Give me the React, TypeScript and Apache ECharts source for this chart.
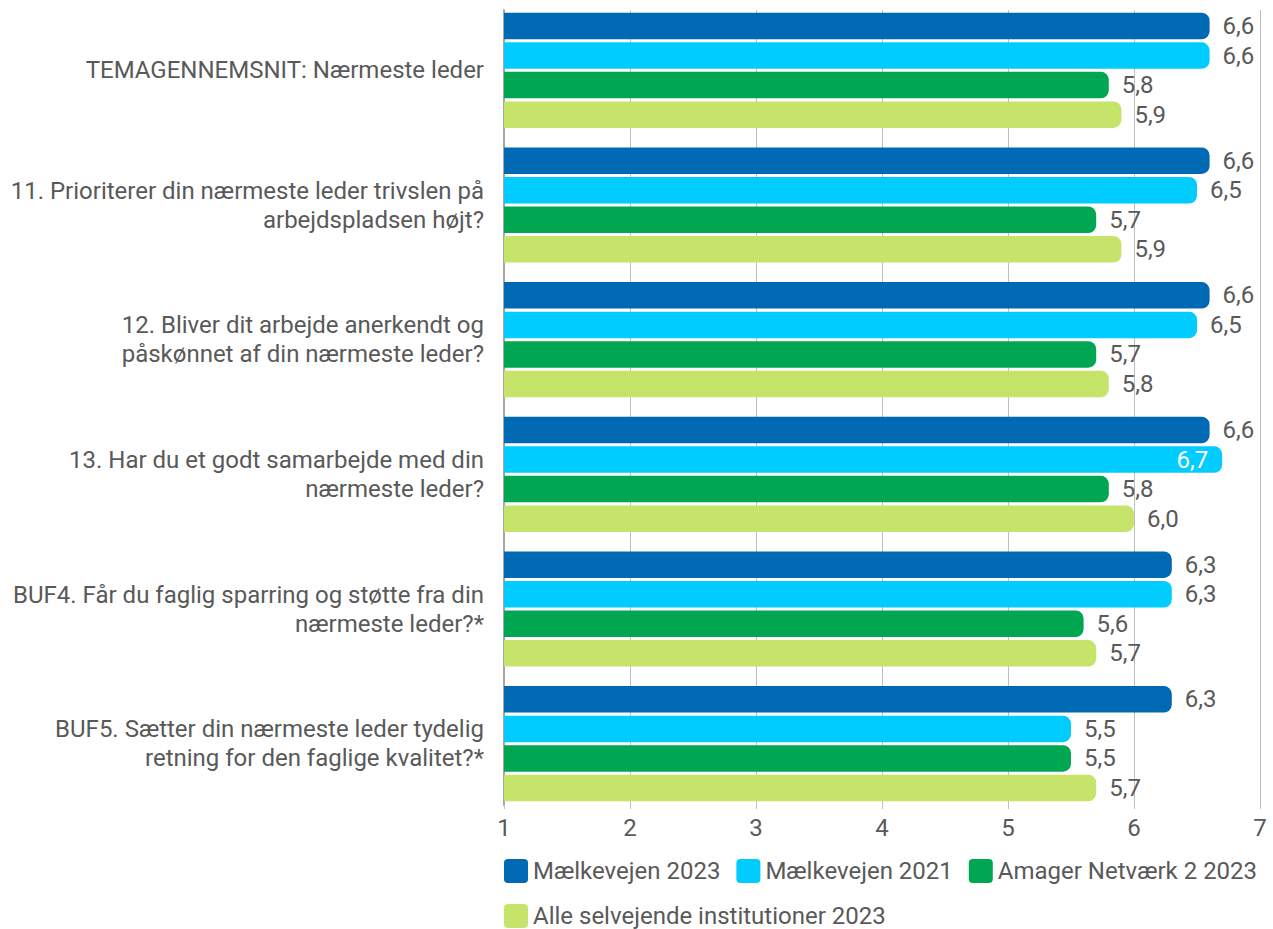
import React, { useEffect, useRef } from "react";
import * as echarts from "echarts";

const categories = [
  "TEMAGENNEMSNIT: Nærmeste leder",
  "11. Prioriterer din nærmeste leder trivslen på\narbejdspladsen højt?",
  "12. Bliver dit arbejde anerkendt og\npåskønnet af din nærmeste leder?",
  "13. Har du et godt samarbejde med din\nnærmeste leder?",
  "BUF4. Får du faglig sparring og støtte fra din\nnærmeste leder?*",
  "BUF5. Sætter din nærmeste leder tydelig\nretning for den faglige kvalitet?*",
];

const seriesNames = [
  "Mælkevejen 2023",
  "Mælkevejen 2021",
  "Amager Netværk 2 2023",
  "Alle selvejende institutioner 2023",
];

const maelkevejen2023 = [6.6, 6.6, 6.6, 6.6, 6.3, 6.3];
const maelkevejen2021 = [6.6, 6.5, 6.5, 6.7, 6.3, 5.5];
const amager2023 = [5.8, 5.7, 5.7, 5.8, 5.6, 5.5];
const alleSelvejende2023 = [5.9, 5.9, 5.8, 6.0, 5.7, 5.7];

const xTicks = [1, 2, 3, 4, 5, 6, 7];

const colors = ["#0069B4", "#00CCFF", "#00A651", "#C6E46A"];
const textColor = "#595959";
const fontFamily = "Roboto, 'Noto Sans', sans-serif";
const legendIcon =
  "path://M4,0H20A4,4,0,0,1,24,4V20A4,4,0,0,1,20,24H4A4,4,0,0,1,0,20V4A4,4,0,0,1,4,0Z";

export default function App() {
  const ref = useRef<HTMLDivElement>(null);

  useEffect(() => {
    if (!ref.current) return;
    const chart = echarts.init(ref.current, undefined, { renderer: "svg" });
    const allData = [maelkevejen2023, maelkevejen2021, amager2023, alleSelvejende2023];
    const xMin = xTicks[0];
    const xMax = xTicks[xTicks.length - 1];

    const series = allData.map((arr, si) => ({
      name: seriesNames[si],
      type: "bar",
      xAxisIndex: 0,
      yAxisIndex: 0,
      barWidth: 26.5,
      barGap: "11.5%",
      itemStyle: { color: colors[si], borderRadius: [0, 8, 8, 0] },
      label: {
        show: true,
        position: "right",
        distance: 13,
        color: textColor,
        fontSize: 24,
        fontFamily,
        formatter: (p: any) => Number(p.value).toFixed(1).replace(".", ","),
      },
      data: arr.map((v) =>
        v >= xMax - 0.3
          ? { value: v, label: { position: "insideRight", distance: 14, color: "#ffffff" } }
          : v
      ),
    }));

    const legendCommon = {
      left: 504,
      padding: 0,
      itemGap: 16,
      itemWidth: 24,
      itemHeight: 24,
      icon: legendIcon,
      textStyle: { color: textColor, fontSize: 24, fontFamily },
    };

    chart.setOption({
      animation: false,
      textStyle: { fontFamily },
      grid: [
        { left: 504, right: 13, top: 3, bottom: 118, containLabel: false },
        { left: 504, right: 13, top: 10, bottom: 124, containLabel: false },
      ],
      xAxis: [
        {
          gridIndex: 0,
          type: "value",
          min: xMin,
          max: xMax,
          interval: 1,
          show: false,
          splitLine: { show: false },
        },
        {
          gridIndex: 1,
          type: "value",
          min: xMin,
          max: xMax,
          interval: 1,
          axisLine: { show: false },
          axisTick: { show: true, length: 4, lineStyle: { color: "#bfbfbf" } },
          splitLine: { show: true, lineStyle: { color: "#bfbfbf", width: 1 } },
          axisLabel: { color: textColor, fontSize: 24, fontFamily, margin: 11 },
        },
      ],
      yAxis: [
        {
          gridIndex: 0,
          type: "category",
          data: categories,
          inverse: true,
          axisLine: { show: false },
          axisTick: { show: false },
          axisLabel: {
            color: textColor,
            fontSize: 24,
            fontFamily,
            lineHeight: 29,
            margin: 20,
            align: "right",
          },
        },
        {
          gridIndex: 1,
          type: "category",
          data: categories,
          inverse: true,
          axisLine: { show: true, lineStyle: { color: "#a6a6a6", width: 2 } },
          axisTick: { show: false },
          axisLabel: { show: false },
        },
      ],
      legend: [
        { ...legendCommon, data: seriesNames.slice(0, 3), top: 859 },
        { ...legendCommon, data: seriesNames.slice(3), top: 904 },
      ],
      series,
    });

    return () => chart.dispose();
  }, []);

  return (
    <div
      ref={ref}
      style={{ position: "fixed", left: 0, top: 0, width: 1273, height: 929, background: "#fff" }}
    />
  );
}
